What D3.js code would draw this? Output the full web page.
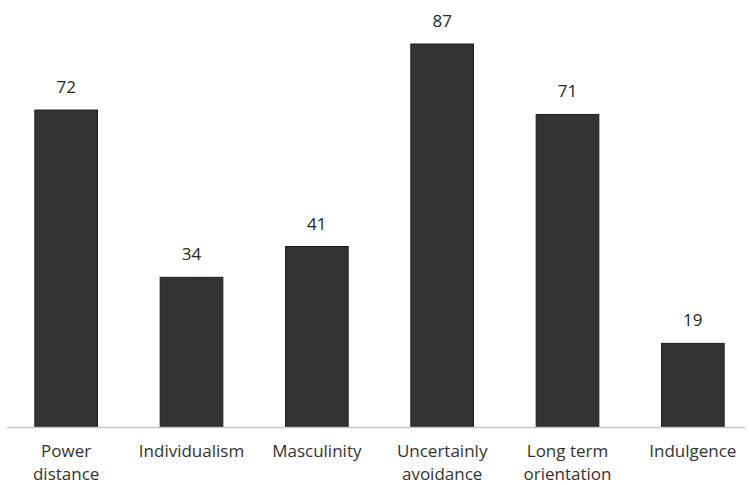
<!DOCTYPE html>
<html><head><meta charset="utf-8">
<script src="https://cdn.jsdelivr.net/npm/d3@7"></script>
<style>body{margin:0;background:#fff}svg{display:block}</style>
</head><body>
<svg id="c" width="749" height="485"></svg>
<script>
const categories = [["Power","distance"],["Individualism"],["Masculinity"],["Uncertainly","avoidance"],["Long term","orientation"],["Indulgence"]];
const values = [72,34,41,87,71,19];

const svg = d3.select("#c");
const baseline = 427;
const x = d3.scaleBand().domain(d3.range(values.length)).range([3.5,755.5]).paddingInner(0.5).paddingOuter(0.25);
const y = d3.scaleLinear().domain([0,87]).range([baseline,44]);

svg.selectAll("rect.bar").data(values).join("rect")
  .attr("class","bar")
  .attr("x",(d,i)=>x(i)).attr("width",x.bandwidth())
  .attr("y",d=>y(d)).attr("height",d=>baseline-y(d))
  .attr("fill","#333333").attr("stroke","#1f1f1f").attr("stroke-width",1);

svg.append("line").attr("x1",7).attr("x2",745).attr("y1",baseline+0.5).attr("y2",baseline+0.5)
  .attr("stroke","#c8c8c8").attr("stroke-width",1.5);

svg.selectAll("text.val").data(values).join("text")
  .attr("class","val")
  .attr("x",(d,i)=>x(i)+x.bandwidth()/2).attr("y",d=>y(d)-17)
  .attr("text-anchor","middle").attr("font-family","Open Sans, sans-serif").attr("font-size",17)
  .attr("fill","#262626").text(d=>d);

const g = svg.selectAll("text.cat").data(categories).join("text")
  .attr("class","cat")
  .attr("x",(d,i)=>x(i)+x.bandwidth()/2).attr("y",457)
  .attr("text-anchor","middle").attr("font-family","Open Sans, sans-serif").attr("font-size",17)
  .attr("fill","#333");
g.selectAll("tspan").data(d=>d).join("tspan")
  .attr("x",function(){return this.parentNode.getAttribute("x");})
  .attr("dy",(d,i)=>i===0?0:23).text(d=>d);
</script>
</body></html>
